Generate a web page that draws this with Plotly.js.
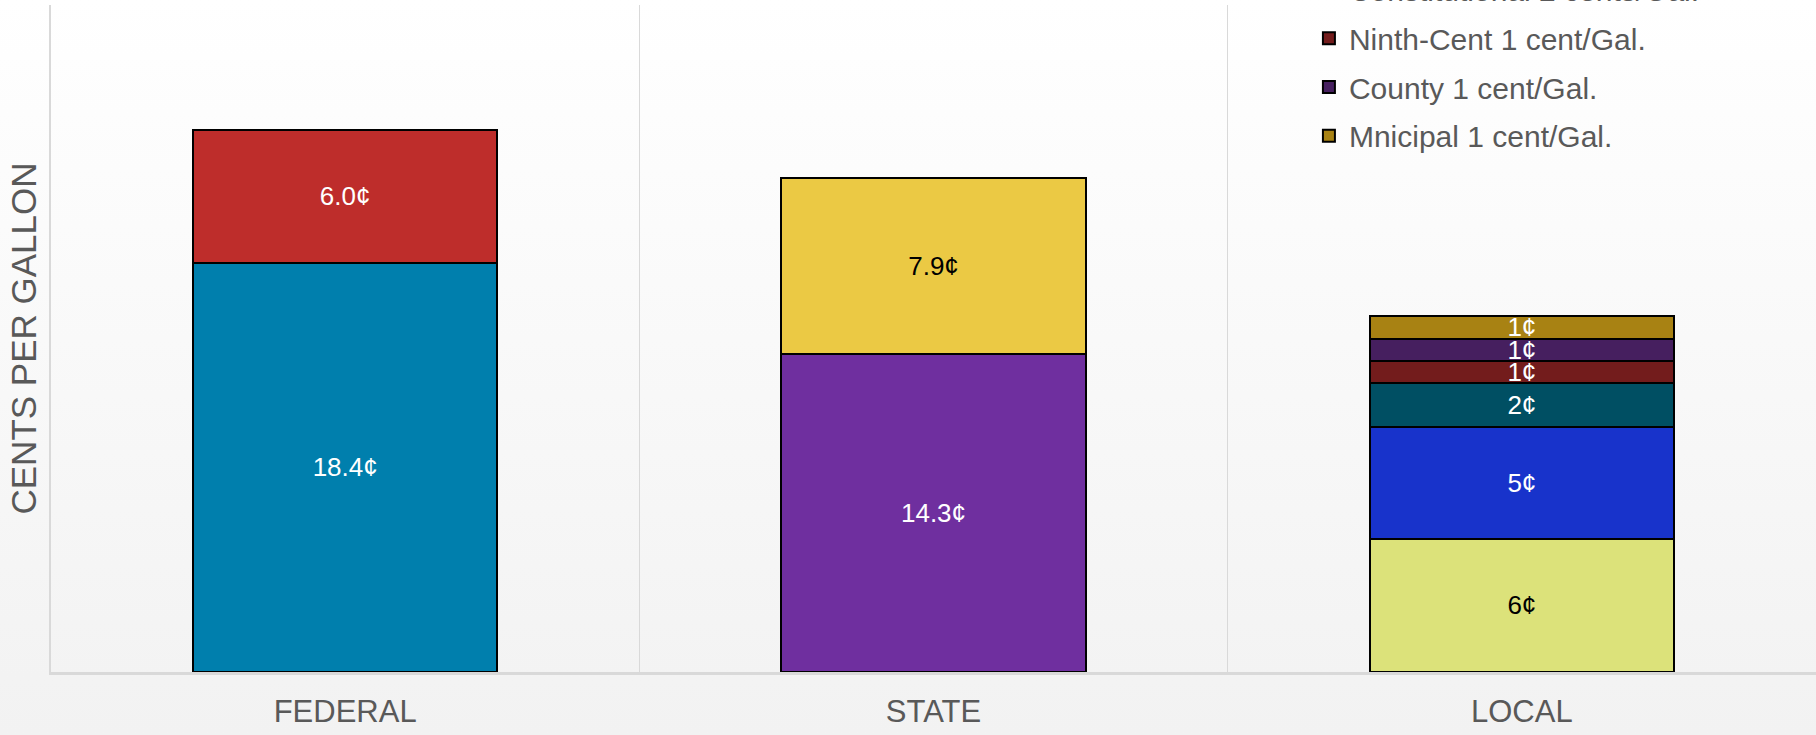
<!DOCTYPE html>
<html>
<head>
<meta charset="utf-8">
<script src="https://cdn.plot.ly/plotly-3.0.1.min.js"></script>
<style>
  html, body { margin: 0; padding: 0; }
  body { width: 1816px; height: 735px; background: linear-gradient(#FFFFFF, #F2F2F2); overflow: hidden; }
  #chart { width: 1816px; height: 735px; }
</style>
</head>
<body>
<div id="chart"></div>
<script>
// ---- data ----
const categories = ['FEDERAL', 'STATE', 'LOCAL'];
const seriesNames = [
  'Federal Excise Tax 18.4 cents/Gal.',
  'Federal Other 6.0 cents/Gal.',
  'State Fuel Sales Tax 14.3 cents/Gal.',
  'State SCETS 7.9 cents/Gal.',
  'Local Option 6 cents/Gal.',
  'Additional Local Option 5 cents/Gal.',
  'Constitutional 2 cents/Gal.',
  'Ninth-Cent 1 cent/Gal.',
  'County 1 cent/Gal.',
  'Mnicipal 1 cent/Gal.'
];
const seriesCategory = ['FEDERAL', 'FEDERAL', 'STATE', 'STATE', 'LOCAL', 'LOCAL', 'LOCAL', 'LOCAL', 'LOCAL', 'LOCAL'];
const seriesValues = [18.4, 6.0, 14.3, 7.9, 6, 5, 2, 1, 1, 1];
const seriesLabels = ['18.4¢', '6.0¢', '14.3¢', '7.9¢', '6¢', '5¢', '2¢', '1¢', '1¢', '1¢'];
const seriesInLegend = [false, false, false, false, false, false, true, true, true, true];

// ---- styles ----
const seriesColors = ['#007FAD', '#BE2D2B', '#6F2F9F', '#EBC944', '#DCE27A', '#1833CB', '#004F63', '#731C1C', '#461F5F', '#A88213'];
const labelColors = ['#FFFFFF', '#FFFFFF', '#FFFFFF', '#000000', '#000000', '#FFFFFF', '#FFFFFF', '#FFFFFF', '#FFFFFF', '#FFFFFF'];
const FONT = 'Liberation Sans, Arial, sans-serif';
const GREY = '#595959';

const traces = seriesNames.map((name, i) => ({
  type: 'bar',
  name: name,
  x: [seriesCategory[i]],
  y: [seriesValues[i]],
  text: [seriesLabels[i]],
  textposition: 'inside',
  insidetextanchor: 'middle',
  textangle: 0,
  constraintext: 'none',
  cliponaxis: false,
  textfont: { family: FONT, size: 26, color: labelColors[i] },
  marker: { color: seriesColors[i], line: { color: '#000000', width: 2 } },
  showlegend: seriesInLegend[i],
  legendgroup: 'g' + i,
  hoverinfo: 'name+y'
}));

const layout = {
  width: 1816,
  height: 735,
  barmode: 'stack',
  bargap: 0.483,
  paper_bgcolor: 'rgba(0,0,0,0)',
  plot_bgcolor: 'rgba(0,0,0,0)',
  margin: { l: 51, r: 0, t: 5, b: 63, autoexpand: false },
  font: { family: FONT, color: GREY },
  xaxis: {
    type: 'category',
    categoryorder: 'array',
    categoryarray: categories,
    tickson: 'boundaries',
    ticks: '',
    showgrid: true,
    gridcolor: '#D9D9D9',
    gridwidth: 1.5,
    showline: true,
    linecolor: '#D9D9D9',
    linewidth: 3,
    tickfont: { family: FONT, size: 31, color: GREY },
    ticklabelstandoff: 10,
    automargin: false,
    fixedrange: true
  },
  yaxis: {
    range: [0, 30],
    showgrid: false,
    zeroline: false,
    showticklabels: false,
    ticks: '',
    showline: true,
    linecolor: '#D9D9D9',
    linewidth: 2,
    automargin: false,
    fixedrange: true,
    title: { text: 'CENTS PER GALLON', font: { family: FONT, size: 35, color: GREY }, standoff: 2 }
  },
  legend: {
    x: 0.7127,
    y: 1.062,
    xanchor: 'left',
    yanchor: 'top',
    xref: 'paper',
    yref: 'paper',
    traceorder: 'grouped',
    tracegroupgap: 6.7,
    bgcolor: 'rgba(0,0,0,0)',
    font: { family: FONT, size: 30, color: GREY }
  }
};

Plotly.newPlot('chart', traces, layout, { displayModeBar: false, staticPlot: true });
</script>
</body>
</html>
